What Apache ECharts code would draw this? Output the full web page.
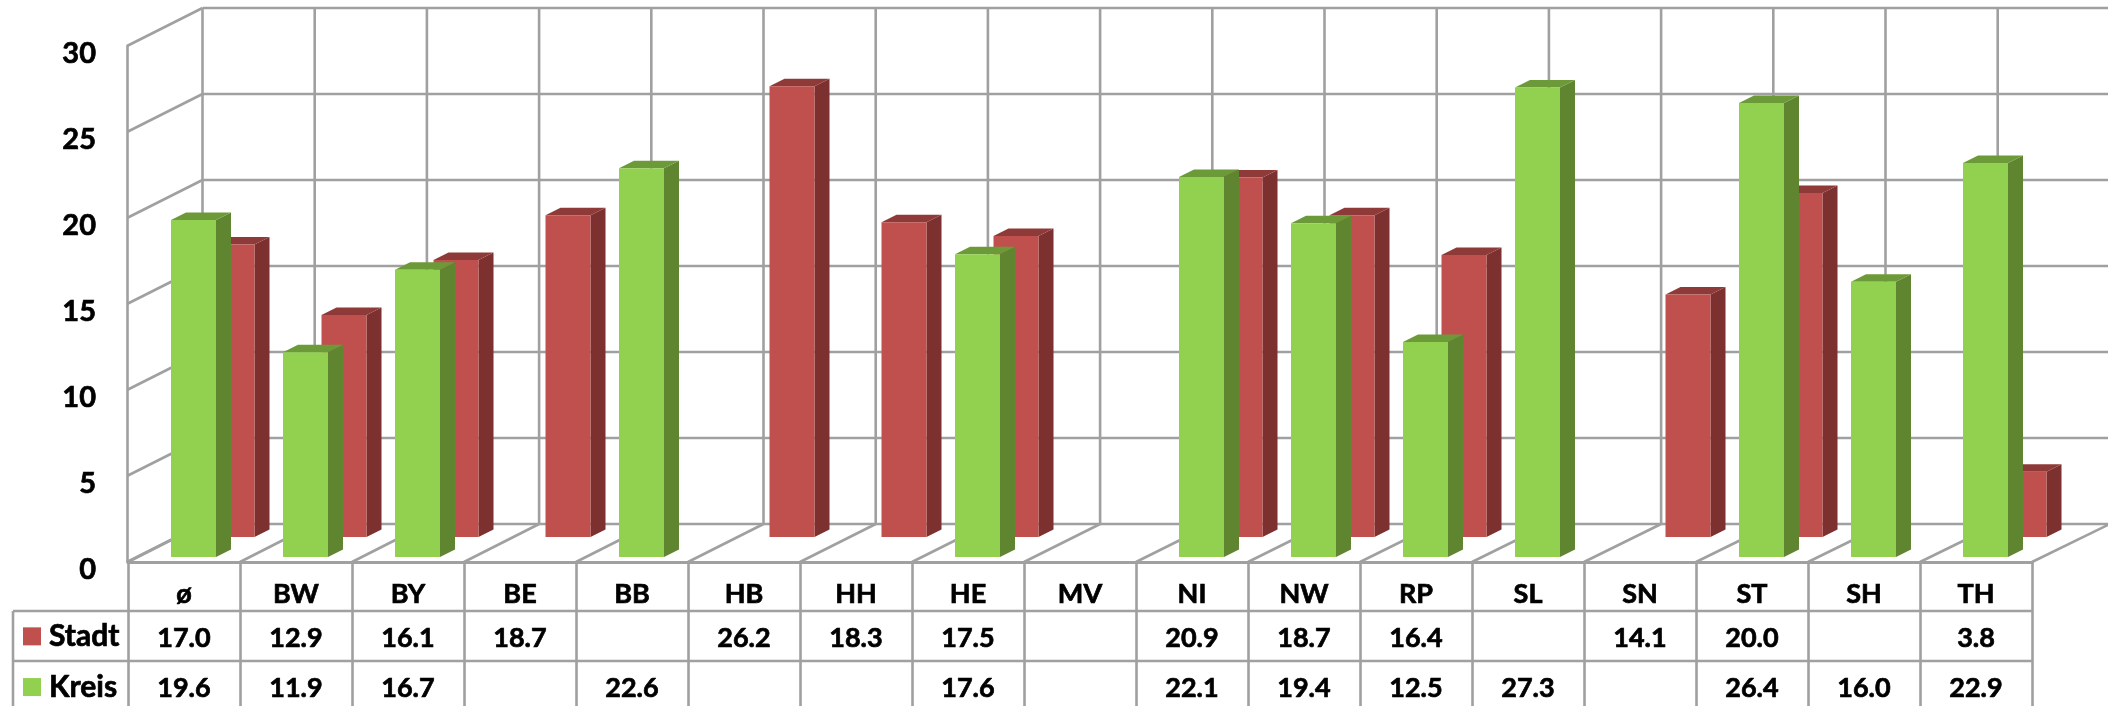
<!DOCTYPE html>
<html><head><meta charset="utf-8">
<style>html,body{margin:0;padding:0;background:#fff;overflow:hidden}#c{width:2108px;height:706px}</style>
<script src="https://cdn.jsdelivr.net/npm/echarts@6/dist/echarts.min.js"></script>
</head><body><div id="c"></div>
<script>
const categories = ['ø','BW','BY','BE','BB','HB','HH','HE','MV','NI','NW','RP','SL','SN','ST','SH','TH'];
const stadt = [17.0,12.9,16.1,18.7,null,26.2,18.3,17.5,null,20.9,18.7,16.4,null,14.1,20.0,null,3.8];
const kreis = [19.6,11.9,16.7,null,22.6,null,null,17.6,null,22.1,19.4,12.5,27.3,null,26.4,16.0,22.9];
const yTicks = [0,5,10,15,20,25,30];

const FONT = 'Lato';
const GRID = '#a0a0a0';
const LW = 2.6;
const HEAVY = {textBorderColor:'#000',textBorderWidth:0.7};
const D = {x:74.5, y:-38};       // back wall shift
const chart = echarts.init(document.getElementById('c'), null, {renderer:'canvas'});

function line(x1,y1,x2,y2,w){
  return {type:'line',shape:{x1,y1,x2,y2},style:{stroke:GRID,lineWidth:w||LW,fill:null}};
}
function poly(points,fill){return {type:'polygon',shape:{points},style:{fill}};}

function barRender(opts){
  return function(params,api){
    const i=api.value(0), v=api.value(1);
    const children=[];
    if(v===v && v!==null){
      const c=api.coord([i,v]), b=api.coord([i,0]);
      const l=c[0]+opts.dx-22.5, r=l+45, t=c[1]+opts.dy, bot=b[1]+opts.dy;
      const sx=15, sy=-7.5;
      children.push(poly([[r,bot],[r+sx,bot+sy],[r+sx,t+sy],[r,t]],opts.side));
      children.push(poly([[l,t],[l+sx,t+sy],[r+sx,t+sy],[r,t]],opts.top));
      children.push(poly([[l,t],[r,t],[r,bot],[l,bot]],opts.front));
      children.push({type:'text',z2:20,style:{
        text:v.toFixed(1),x:c[0],y:b[1]+opts.row,align:'center',verticalAlign:'middle',
        fill:'#000',font:'bold 27px '+FONT,stroke:'#000',lineWidth:0.7}});
    }
    return {type:'group',children};
  };
}

const option = {
  animation:false,
  backgroundColor:'#fff',
  legend:{
    data:['Stadt','Kreis'],orient:'vertical',left:23,top:621,itemWidth:18,itemHeight:18,itemGap:20,padding:0,
    icon:'rect',selectedMode:false,
    textStyle:{color:'#000',fontFamily:FONT,fontWeight:'bold',fontSize:30,padding:[0,0,0,3],...HEAVY}
  },
  grid:{left:128,top:46,width:1904,height:516},
  xAxis:{type:'category',data:categories,
    axisLine:{show:true,lineStyle:{color:GRID,width:3.2}},
    axisTick:{show:true,length:144,lineStyle:{color:GRID,width:LW}},
    axisLabel:{interval:0,margin:19,color:'#000',fontFamily:FONT,fontWeight:'bold',fontSize:27,...HEAVY}
  },
  yAxis:{type:'value',min:0,max:30,interval:5,
    offset:1,
    axisLine:{show:true,lineStyle:{color:GRID,width:LW}},
    axisTick:{show:false},splitLine:{show:false},
    axisLabel:{margin:31,color:'#000',fontFamily:FONT,fontWeight:'bold',fontSize:29,verticalAlign:'top',lineHeight:16,...HEAVY}
  },
  graphic:[
    {type:'group',silent:true,children:[
      {type:'line',shape:{x1:13,y1:611,x2:2032,y2:611},style:{stroke:GRID,lineWidth:LW}},
      {type:'line',shape:{x1:13,y1:661,x2:2032,y2:661},style:{stroke:GRID,lineWidth:LW}},
      {type:'line',shape:{x1:13,y1:611,x2:13,y2:706},style:{stroke:GRID,lineWidth:LW}}
    ]}
  ],
  series:[
    {type:'custom',name:'wallH',silent:true,z:1,coordinateSystem:'cartesian2d',
      data:yTicks.map(v=>[0,v]),
      renderItem(p,api){
        const a=api.coord([0,api.value(1)]);
        const x0=a[0]-56-1, y=a[1];
        return {type:'group',children:[
          line(x0,y,x0+D.x+1,y+D.y),
          line(x0+D.x+1,y+D.y,2108,y+D.y)
        ]};
      }},
    {type:'custom',name:'wallV',silent:true,z:1,coordinateSystem:'cartesian2d',
      data:categories.concat(['']).map((c,i)=>[i,30]),
      renderItem(p,api){
        const i=api.value(0);
        const top=api.coord([0,30])[1], bot=api.coord([0,0])[1];
        const fx=api.coord([0,0])[0]-56+api.size([1,0])[0]*i;
        const bx=fx+D.x+i*0.2;
        return {type:'group',children:[
          line(bx,top+D.y,bx,bot+D.y),
          line(fx,bot,bx,bot+D.y)
        ]};
      }},
    {type:'custom',name:'Stadt',z:2,coordinateSystem:'cartesian2d',silent:true,
      data:stadt.map((v,i)=>[i,v]),
      itemStyle:{color:'#C0504D'},
      renderItem:barRender({dx:48,dy:-25,row:76,front:'#C0504D',side:'#7C3130',top:'#8E3A38'})},
    {type:'custom',name:'Kreis',z:3,coordinateSystem:'cartesian2d',silent:true,
      data:kreis.map((v,i)=>[i,v]),
      itemStyle:{color:'#92D050'},
      renderItem:barRender({dx:9.5,dy:-5,row:126,front:'#92D050',side:'#5F8530',top:'#6D9A38'})}
  ]
};
chart.setOption(option);
</script></body></html>
